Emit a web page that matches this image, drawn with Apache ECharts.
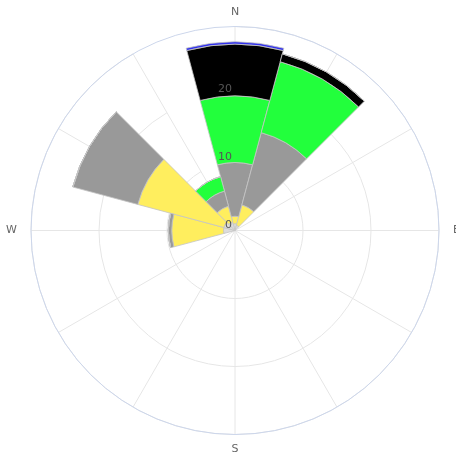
<!DOCTYPE html>
<html><head><meta charset="utf-8">
<script src="https://cdn.jsdelivr.net/npm/echarts@6/dist/echarts.min.js"></script>
<style>html,body{margin:0;padding:0;background:#fff}#c{width:456px;height:455px}</style>
</head><body><div id="c"></div>
<script>
var directions = ['N','NNE','ENE','E','ESE','SSE','S','SSW','WSW','W','WNW','NNW'];
var radiusTicks = [0, 10, 20, 30];
var seriesNames = ['s1','s2','s3','s4','s5','s6'];
var s1 = [1.0, 0.8, 0, 0, 0, 0, 0, 0, 0, 1.7, 1.7, 1.3];
var s2 = [1.1, 3.1, 0, 0, 0, 0, 0, 0, 0, 7.6, 13.1, 2.4];
var s3 = [7.9, 11.0, 0, 0, 0, 0, 0, 0, 0, 0.5, 9.9, 2.3];
var s4 = [9.8, 10.8, 0, 0, 0, 0, 0, 0, 0, 0, 0, 2.2];
var s5 = [7.6, 1.2, 0, 0, 0, 0, 0, 0, 0, 0, 0, 0];
var s6 = [0.35, 0, 0, 0, 0, 0, 0, 0, 0, 0, 0, 0];
var colors = ['#dcdcdc', '#ffee5e', '#999999', '#22ff3c', '#000000', '#3030ee'];
var values = [s1, s2, s3, s4, s5, s6];

var FONT = 'DejaVu Sans';
var center = [235, 230.5];
var R = 204;

var series = values.map(function (v, i) {
  return {
    type: 'bar', name: seriesNames[i], coordinateSystem: 'polar', polarIndex: 0,
    stack: 'total', data: v, barCategoryGap: '0%', z: 2,
    itemStyle: { color: colors[i], borderColor: '#c4c4c4', borderWidth: 0.8 },
    silent: true
  };
});

var chart = echarts.init(document.getElementById('c'));
chart.setOption({
  animation: false,
  polar: [
    { center: center, radius: R },
    { center: center, radius: R }
  ],
  angleAxis: [
    {
      polarIndex: 0, type: 'category', data: directions, startAngle: 90, clockwise: true,
      boundaryGap: false,
      axisLine: { show: false },
      axisTick: { show: false, interval: 0 },
      axisLabel: {
        interval: 2, color: '#666666', fontFamily: FONT, fontSize: 11, margin: 9,
        formatter: function (v) {
          if (v === 'W') return '{w|W}';
          if (v === 'E') return '{e|E}';
          return v;
        },
        rich: {
          w: { color: '#666666', fontFamily: FONT, fontSize: 11, padding: [0, 5, 0, 0] },
          e: { color: '#666666', fontFamily: FONT, fontSize: 11, padding: [0, 0, 0, 5] }
        }
      },
      splitLine: { show: true, interval: 0, lineStyle: { color: '#e6e6e6', width: 1 } }
    },
    {
      polarIndex: 1, type: 'category', data: directions, startAngle: 90, boundaryGap: true,
      z: 1,
      axisLine: { show: true, lineStyle: { color: '#ccd6eb', width: 1 } },
      axisTick: { show: false }, axisLabel: { show: false }, splitLine: { show: false }
    }
  ],
  radiusAxis: [
    {
      polarIndex: 0, type: 'value', min: radiusTicks[0], max: radiusTicks[radiusTicks.length - 1], interval: 10,
      axisLine: { show: false }, axisTick: { show: false }, axisLabel: { show: false },
      splitLine: { show: true, lineStyle: { color: '#e6e6e6', width: 1 } }
    },
    {
      polarIndex: 1, type: 'value', min: radiusTicks[0], max: radiusTicks[radiusTicks.length - 1], interval: 10,
      z: 20,
      axisLine: { show: false }, axisTick: { show: false },
      splitLine: { show: false },
      axisLabel: {
        showMaxLabel: false, color: '#555555', fontFamily: FONT, fontSize: 11,
        align: 'right', verticalAlign: 'bottom', margin: 3
      }
    }
  ],
  series: series
});
</script></body></html>
